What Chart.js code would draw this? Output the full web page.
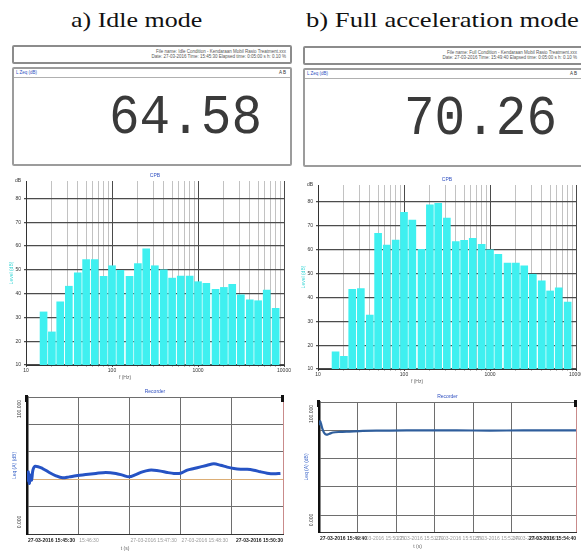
<!DOCTYPE html>
<html><head><meta charset="utf-8">
<script src="https://cdn.jsdelivr.net/npm/chart.js@4.4.1/dist/chart.umd.min.js"></script>
<style>
html,body{margin:0;padding:0;width:581px;height:557px;overflow:hidden;background:#fff;}
.title{position:absolute;font-family:'Liberation Serif','Times New Roman',serif;font-size:22px;line-height:1;color:#111;white-space:nowrap;transform-origin:0 0;}
.hdr{position:absolute;border:2px solid #8c8c8c;border-radius:2px;box-sizing:border-box;background:#fff;}
.hdr .t{position:absolute;right:4px;font:4.5px 'Liberation Sans',Arial,sans-serif;line-height:5px;color:#555;white-space:nowrap;}
.box{position:absolute;border:2px solid #9c9c9c;border-radius:2px;box-sizing:border-box;background:#fff;}
.strip{position:absolute;left:0;right:0;top:0;height:8px;border-bottom:1px solid #b0b0b0;}
.strip .l{position:absolute;left:2px;top:1px;font:4.5px 'Liberation Sans',Arial,sans-serif;color:#3050c0;white-space:nowrap;}
.strip .r{position:absolute;right:4px;top:1px;font:4.5px 'Liberation Sans',Arial,sans-serif;color:#333;white-space:nowrap;}
.big{position:absolute;font-family:'Liberation Mono','DejaVu Sans Mono',monospace;font-size:51px;line-height:1;color:#3a3a3a;white-space:nowrap;transform:scaleY(1.08);transform-origin:0 39px;}
canvas{position:absolute;}
</style></head>
<body>
<div class="title" style="left:71px;top:9px;transform:scaleX(1.18);">a) Idle mode</div>
<div class="title" style="left:306px;top:9px;transform:scaleX(1.21);">b) Full acceleration mode</div>

<div class="hdr" style="left:12px;top:45px;width:280px;height:19px;">
  <div class="t" style="top:2px;">File name: Idle Condition - Kendaraan Mobil Rasio Treatment.xxx</div>
  <div class="t" style="top:7px;">Date: 27-03-2016  Time: 15:45:30  Elapsed time: 0:05:00 s  h: 0.10 %</div>
</div>
<div class="box" style="left:12px;top:67px;width:280px;height:99px;">
  <div class="strip"><span class="l">L Zeq (dB)</span><span class="r">A B</span></div>
</div>
<div class="big" style="left:109px;top:94px;">64.58</div>

<div class="hdr" style="left:303px;top:46px;width:292px;height:19px;">
  <div class="t" style="top:2px;right:16px;">File name: Full Condition - Kendaraan Mobil Rasio Treatment.xxx</div>
  <div class="t" style="top:7px;right:16px;">Date: 27-03-2016  Time: 15:49:40  Elapsed time: 0:05:00 s  h: 0.10 %</div>
</div>
<div class="box" style="left:303px;top:68px;width:292px;height:99px;">
  <div class="strip"><span class="l">L Zeq (dB)</span><span class="r" style="right:16px;">A B</span></div>
</div>
<div class="big" style="left:404px;top:95px;">70.26</div>

<canvas id="barA" width="292" height="217" style="left:0px;top:168px;"></canvas>
<canvas id="barB" width="292" height="217" style="left:292px;top:172px;"></canvas>
<canvas id="lineA" width="292" height="172" style="left:0px;top:385px;"></canvas>
<canvas id="lineB" width="292" height="172" style="left:292px;top:385px;"></canvas>

<script>
// ---------- data ----------
const bandFreqs = [16,20,25,31.5,40,50,63,80,100,125,160,200,250,315,400,500,630,800,1000,1250,1600,2000,2500,3150,4000,5000,6300,8000];
const idleLevels = [32.3,23.9,36.5,43.1,48.7,54.3,54.3,47.3,51.7,49.8,47.3,52.6,58.8,51.7,50.0,46.5,47.4,47.4,45.0,44.3,41.8,42.6,43.9,39.5,37.4,37.0,41.5,33.8];
const fullLevels = [17.2,15.3,43.4,43.7,32.6,66.8,61.9,64.0,75.6,72.4,60.1,78.8,79.4,73.2,63.4,63.9,64.8,62.2,59.9,58.1,54.4,54.4,53.2,49.7,46.9,42.7,44.0,38.0];
const levelTicks = [10,20,30,40,50,60,70,80];
const freqDecades = [10,100,1000,10000];
const freqMultipliers = [1,2,3,4,5,6,7,8,9];

const idleTime = [0.26,0.52,0.9,1.3,1.8,2.3,3.2,6.1,8.7,11.3,13.9,16.5,19.1,23.0,26.9,30.8,34.7,37.3,39.9,42.5,45.1,47.7,49.6,52.2,54.8,57.4,60.0,62.6,65.2,67.8,70.4,73.0,75.6,78.2,80.8,83.4,86.0,88.6,91.2,93.8,96.4,99.0];
const idleLeq  = [38.1,45.4,36.9,43.0,39.3,46.6,49.5,47.8,44.9,42.5,41.0,41.7,42.5,43.4,44.2,44.9,44.2,43.0,41.7,43.4,45.4,46.6,46.6,45.9,44.9,44.2,44.4,46.6,47.8,49.0,50.2,51.2,50.2,48.8,47.8,47.3,47.3,46.6,45.4,44.4,43.9,44.2];
const fullTime = [0.13,0.39,0.78,1.3,1.95,2.86,3.9,5.45,8.05,11.9,17.1,27.5,40.5,53.5,66.5,79.5,100];
const fullLeq  = [83.5,86.4,84.7,81.2,78.4,76.9,77.4,78.4,78.8,79.1,79.5,79.8,79.9,79.9,79.8,79.9,79.9];
const idleTimeLabels = ['27-03-2016 15:45:30','15:46:30','27-03-2016 15:47:30','27-03-2016 15:48:30','27-03-2016 15:50:30'];
const fullTimeLabels = ['27-03-2016 15:49:40','27-03-2016 15:50:25','27-03-2016 15:51:10','27-03-2016 15:51:55','27-03-2016 15:52:40','27-03-2016 15:53:25','27-03-2016 15:54:40'];

// ---------- helpers ----------
const chartFont = "'Liberation Sans', Arial, sans-serif";
Chart.defaults.font.family = chartFont;
Chart.defaults.animation = false;

const freqGrid = [];
freqDecades.slice(0,3).forEach(d => freqMultipliers.forEach(m => freqGrid.push(d*m)));
freqGrid.push(freqDecades[3]);

const extras = {
  id: 'extras',
  afterDraw(chart, args, o) {
    const ctx = chart.ctx, a = chart.chartArea;
    ctx.save();
    if (o.title) {
      ctx.font = '5px ' + chartFont; ctx.fillStyle = '#3050c0';
      ctx.textAlign = 'center'; ctx.textBaseline = 'bottom';
      ctx.fillText(o.title, (a.left + a.right) / 2, a.top - 3);
    }
    if (o.xTitle) {
      ctx.font = '5px ' + chartFont; ctx.fillStyle = '#666';
      ctx.textAlign = 'center'; ctx.textBaseline = 'top';
      ctx.fillText(o.xTitle, (a.left + a.right) / 2 - 30, a.bottom + o.xTitleGap);
    }
    if (o.timeLabels) {
      const xs = chart.scales.x;
      ctx.textBaseline = 'top';
      o.timeLabels.forEach((t, i) => {
        const last = i === o.timeLabels.length - 1;
        ctx.font = (i === 0 || last ? 'bold ' : '') + '5px ' + chartFont;
        ctx.fillStyle = (i === 0 || last) ? '#222' : '#9a9a9a';
        if (last) { ctx.textAlign = 'right'; ctx.fillText(t, a.right, a.bottom + 4); }
        else { ctx.textAlign = 'left'; ctx.fillText(t, xs.getPixelForValue(i * o.timeStep) + 1, a.bottom + 4); }
      });
    }
    if (o.yEnds) {
      ctx.font = '5px ' + chartFont; ctx.fillStyle = '#333'; ctx.textAlign = 'center'; ctx.textBaseline = 'middle';
      [[o.yEnds[0], a.top + 12], [o.yEnds[1], a.bottom - 12]].forEach(([t, y]) => {
        ctx.save(); ctx.translate(a.left - 7, y); ctx.rotate(-Math.PI / 2); ctx.fillText(t, 0, 0); ctx.restore();
      });
      ctx.fillStyle = '#3a64c8';
      ctx.save(); ctx.translate(a.left - 12, (a.top + a.bottom) / 2); ctx.rotate(-Math.PI / 2); ctx.fillText(o.yTitle, 0, 0); ctx.restore();
      ctx.fillStyle = '#111';
      ctx.fillRect(a.left - 2, a.top - 2, 3, 7);
      ctx.fillRect(a.right - 2, a.top - 2, 3, 7);
    }
    ctx.restore();
  }
};

function barChart(id, levels, yMax) {
  return new Chart(document.getElementById(id), {
    type: 'bar',
    data: { datasets: [{
      data: bandFreqs.map((f, i) => ({ x: f, y: levels[i] })),
      backgroundColor: '#3ff0f0', borderWidth: 0, barThickness: 7
    }]},
    options: {
      responsive: false, animation: false,
      layout: { padding: { top: 13, right: 8, left: 0, bottom: 0 } },
      plugins: { legend: { display: false }, tooltip: { enabled: false },
        extras: { title: 'CPB', xTitle: 'f (Hz)', xTitleGap: 10 } },
      scales: {
        x: {
          type: 'logarithmic', min: 10, max: 10000, offset: false,
          afterBuildTicks(s) { s.ticks = freqGrid.map(v => ({ value: v })); },
          afterFit(s) { s.height = 20; },
          grid: { offset: false, lineWidth: 1, tickLength: 2,
            color: c => (c.tick && freqDecades.includes(c.tick.value)) ? '#4a4a4a' : '#c2c2c2' },
          border: { color: '#333' },
          ticks: { autoSkip: false, maxRotation: 0, minRotation: 0, font: { size: 5 }, color: '#333', padding: 1,
            callback: v => freqDecades.includes(v) ? String(v) : '' }
        },
        y: {
          type: 'linear', min: 10, max: yMax,
          afterFit(s) { s.width = 26; },
          ticks: { stepSize: 10, font: { size: 5 }, color: '#333', padding: 3,
            callback: v => levelTicks.includes(v) ? String(v) : 'dB' },
          grid: { tickLength: 2, lineWidth: 1.2, color: c => (c.tick && levelTicks.includes(c.tick.value)) ? '#4c4c4c' : 'rgba(0,0,0,0)' },
          border: { color: '#333' },
          title: { display: true, text: 'Level (dB)', color: '#3cd6d6', font: { size: 5 }, padding: { top: 9, bottom: 0 } }
        }
      }
    },
    plugins: [extras]
  });
}

function lineChart(id, times, values, opt) {
  return new Chart(document.getElementById(id), {
    type: 'line',
    data: { datasets: [{
      data: times.map((t, i) => ({ x: t, y: values[i] })),
      borderColor: opt.color, borderWidth: opt.width, pointRadius: 0, tension: 0.3, fill: false
    }]},
    options: {
      responsive: false, animation: false,
      layout: { padding: { top: opt.padTop, right: opt.padRight, left: 0, bottom: 0 } },
      plugins: { legend: { display: false }, tooltip: { enabled: false },
        extras: { title: 'Recorder', xTitle: 't (s)', xTitleGap: 12, timeLabels: opt.labels, timeStep: opt.xStep,
          yEnds: ['100.000', '0.000'], yTitle: 'Leq (A) (dB)' } },
      scales: {
        x: {
          type: 'linear', min: 0, max: 100,
          afterFit(s) { s.height = opt.xAxisH; },
          ticks: { display: false, stepSize: opt.xStep },
          grid: { drawTicks: false, color: c => (c.tick && c.tick.value === 100) ? '#c98b8b' : '#6e6e6e' },
          border: { color: '#333', width: 1 }
        },
        y: {
          type: 'linear', min: opt.yMin, max: 100,
          afterFit(s) { s.width = 27; },
          ticks: { display: false, stepSize: 20 },
          grid: { drawTicks: false, color: c => (c.tick && c.tick.value === opt.hiValue) ? '#dcae76' : '#6e6e6e' },
          border: { color: '#111', width: 2.5 }
        }
      }
    },
    plugins: [extras]
  });
}

barChart('barA', idleLevels, 87.3);
barChart('barB', fullLevels, 87.1);
lineChart('lineA', idleTime, idleLeq, { color: '#2653c4', width: 3, padTop: 12, padRight: 9, xAxisH: 23, xStep: 20, yMin: 0, hiValue: 40, labels: idleTimeLabels });
lineChart('lineB', fullTime, fullLeq, { color: '#2f5e9c', width: 2.2, padTop: 17, padRight: 8, xAxisH: 25, xStep: 15, yMin: 8, hiValue: -1, labels: fullTimeLabels });
</script>
</body></html>
